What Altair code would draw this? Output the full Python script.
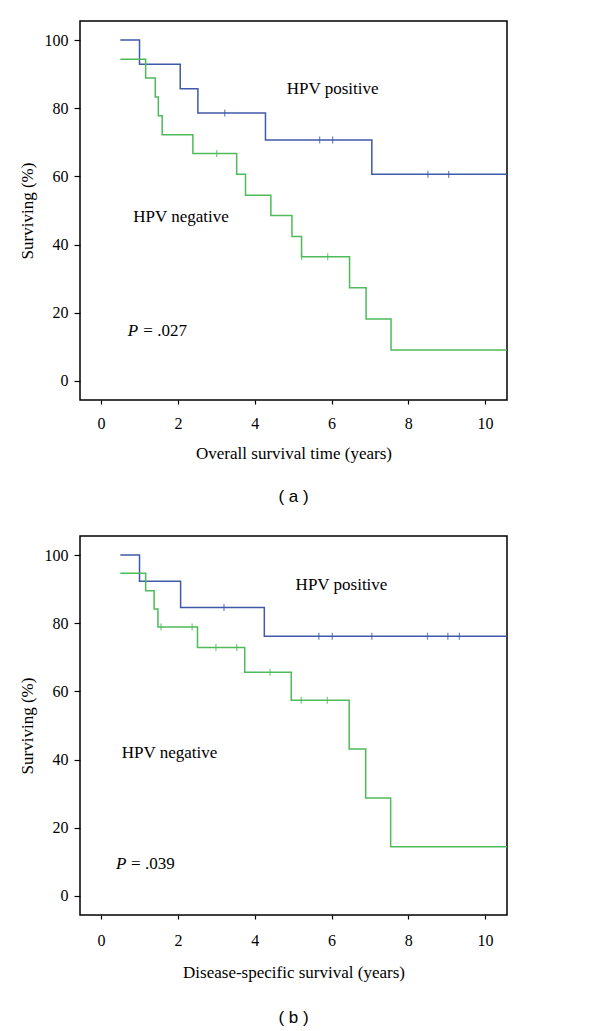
import altair as alt
import pandas as pd

# ---------------- data ----------------
groups = ["HPV positive", "HPV negative"]
colors = ["#3f5aa8", "#4dbb5a"]

# Panel (a): overall survival
a_pos_t = [0.5, 1.0, 2.06, 2.52, 4.28, 7.05, 10.6]
a_pos_s = [100, 92.9, 85.7, 78.6, 70.7, 60.6, 60.6]
a_pos_ct = [3.22, 5.69, 6.03, 8.51, 9.05]
a_pos_cs = [78.6, 70.7, 70.7, 60.6, 60.6]

a_neg_t = [0.5, 1.16, 1.41, 1.49, 1.59, 2.39, 3.53, 3.76, 4.42, 4.97, 5.22, 6.47, 6.90, 7.55, 10.6]
a_neg_s = [94.4, 88.9, 83.3, 77.8, 72.2, 66.7, 60.6, 54.5, 48.5, 42.4, 36.4, 27.3, 18.2, 9.1, 9.1]
a_neg_ct = [3.01, 5.22, 5.90]
a_neg_cs = [66.7, 36.4, 36.4]

# Panel (b): disease-specific survival
b_pos_t = [0.5, 1.0, 2.07, 4.25, 10.6]
b_pos_s = [100, 92.3, 84.6, 76.2, 76.2]
b_pos_ct = [3.2, 5.67, 6.02, 7.05, 8.5, 9.03, 9.33]
b_pos_cs = [84.6, 76.2, 76.2, 76.2, 76.2, 76.2, 76.2]

b_neg_t = [0.5, 1.16, 1.38, 1.48, 2.51, 3.74, 4.95, 6.46, 6.89, 7.54, 10.6]
b_neg_s = [94.7, 89.5, 84.2, 78.9, 72.9, 65.6, 57.4, 43.1, 28.7, 14.4, 14.4]
b_neg_ct = [1.56, 2.37, 2.99, 3.53, 4.40, 5.21, 5.89]
b_neg_cs = [78.9, 78.9, 72.9, 72.9, 65.6, 57.4, 57.4]

x_ticks = [0, 2, 4, 6, 8, 10]
y_ticks = [0, 20, 40, 60, 80, 100]

# annotations (label, x, y) in data units
a_labels = [("HPV positive", 6.03, 84.1), ("HPV negative", 2.08, 46.7)]
a_p = [("P", 0.695, 13.3), ("= .027", 1.10, 13.3)]
b_labels = [("HPV positive", 6.26, 89.9), ("HPV negative", 1.78, 40.6)]
b_p = [("P", 0.39, 7.8), ("= .039", 0.78, 7.8)]

X_DOM = [-0.55, 10.57]
Y_DOM = [-5.6, 105.6]
SERIF = "Liberation Serif"


def panel(pos_t, pos_s, pos_ct, pos_cs, neg_t, neg_s, neg_ct, neg_cs,
          labels, ptext, xtitle, caption, lpad, tpad, coff):
    lines = pd.DataFrame(
        {"t": pos_t + neg_t,
         "s": pos_s + neg_s,
         "g": [groups[0]] * len(pos_t) + [groups[1]] * len(neg_t)})
    cens = pd.DataFrame(
        {"t": pos_ct + neg_ct,
         "s": pos_cs + neg_cs,
         "g": [groups[0]] * len(pos_ct) + [groups[1]] * len(neg_ct)})
    lab = pd.DataFrame(labels, columns=["txt", "x", "y"])
    pp = pd.DataFrame(ptext[:1], columns=["txt", "x", "y"])
    pr = pd.DataFrame(ptext[1:], columns=["txt", "x", "y"])

    xenc = alt.X("t:Q", scale=alt.Scale(domain=X_DOM, nice=False, zero=False),
                 axis=alt.Axis(values=x_ticks, title=xtitle, tickSize=4,
                               labelPadding=lpad, titlePadding=tpad))
    yenc = alt.Y("s:Q", scale=alt.Scale(domain=Y_DOM, nice=False, zero=False),
                 axis=alt.Axis(values=y_ticks, title="Surviving (%)", tickSize=6,
                               labelPadding=6, titlePadding=8))
    cenc = alt.Color("g:N", scale=alt.Scale(domain=groups, range=colors), legend=None)

    line = alt.Chart(lines).mark_line(interpolate="step-after", strokeWidth=1.5,
                                      clip=True).encode(x=xenc, y=yenc, color=cenc, detail="g:N")
    ticks = alt.Chart(cens).mark_tick(orient="vertical", size=7, thickness=1.3,
                                      clip=True).encode(x="t:Q", y="s:Q", color=cenc)
    txt = alt.Chart(lab).mark_text(font=SERIF, fontSize=17, baseline="alphabetic",
                                   color="black").encode(x="x:Q", y="y:Q", text="txt:N")
    ptxt = alt.Chart(pp).mark_text(font=SERIF, fontSize=17, baseline="alphabetic",
                                   align="left", fontStyle="italic",
                                   color="black").encode(x="x:Q", y="y:Q", text="txt:N")
    rtxt = alt.Chart(pr).mark_text(font=SERIF, fontSize=17, baseline="alphabetic",
                                   align="left", color="black").encode(x="x:Q", y="y:Q", text="txt:N")
    return alt.layer(line, ticks, txt, ptxt, rtxt).properties(
        width=427, height=379,
        title=alt.TitleParams(caption, orient="bottom", font="Liberation Sans",
                              fontSize=17, fontWeight="normal", color="black", offset=coff))


pa = panel(a_pos_t, a_pos_s, a_pos_ct, a_pos_cs, a_neg_t, a_neg_s, a_neg_ct, a_neg_cs,
           a_labels, a_p, "Overall survival time (years)", "( a )", 11, 14, 28)
pb = panel(b_pos_t, b_pos_s, b_pos_ct, b_pos_cs, b_neg_t, b_neg_s, b_neg_ct, b_neg_cs,
           b_labels, b_p, "Disease-specific survival (years)", "( b )", 13, 16, 30)

chart = alt.vconcat(pa, pb, spacing=29).properties(
    padding={"left": 9, "top": 12, "right": 5, "bottom": 5}
).configure_view(stroke="black", strokeWidth=1.5).configure_axis(
    grid=False, domain=False, tickColor="black", tickWidth=1.2,
    labelColor="black", titleColor="black",
    labelFont=SERIF, titleFont=SERIF, labelFontSize=16, titleFontSize=17,
    titleFontWeight="normal"
)

chart.save("out.html", embed_options={"renderer": "svg", "actions": False})
